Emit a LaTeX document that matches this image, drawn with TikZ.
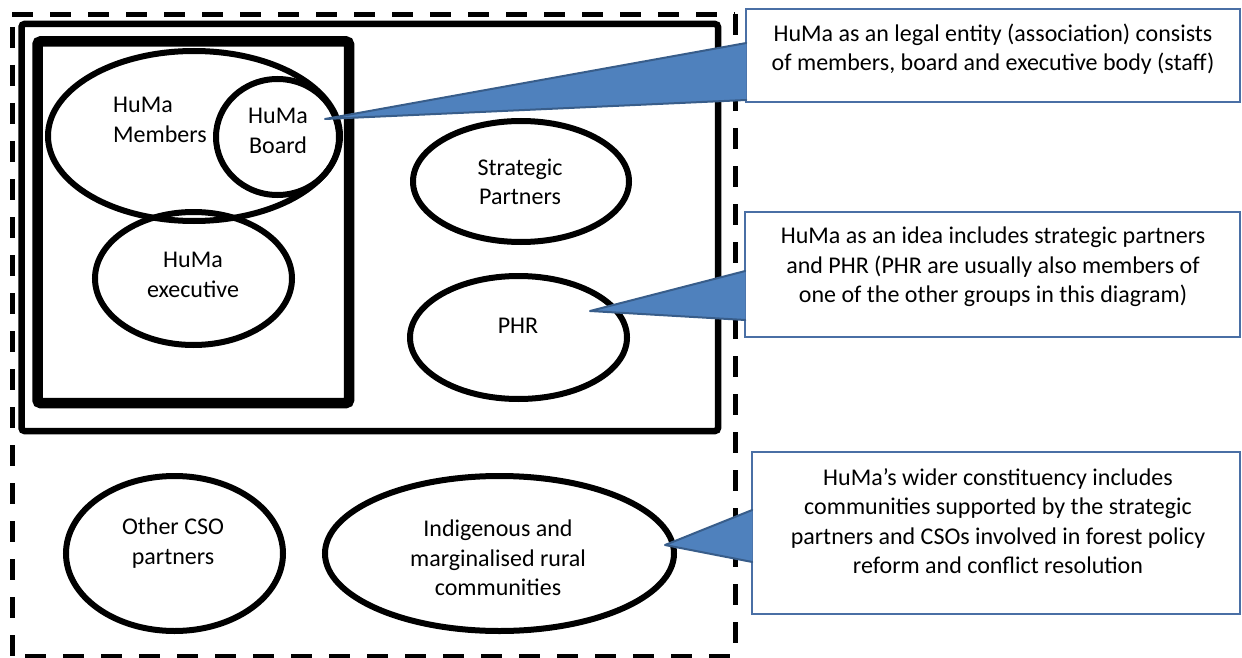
\documentclass[tikz,border=0pt]{standalone}
\usepackage{fontspec}
\setmainfont{Carlito}
\usetikzlibrary{shapes.geometric}
\definecolor{cfill}{HTML}{4F81BD}
\definecolor{cline}{HTML}{385D8A}
\definecolor{cbox}{HTML}{4A6FA5}
\begin{document}
\begin{tikzpicture}[x=1pt,y=-1pt,
  oval/.style={ellipse, draw=black, line width=6pt, inner sep=0pt},
  txt/.style={inner sep=0pt, align=center, font=\fontsize{24}{29.3}\selectfont},
  callbox/.style={draw=cbox, line width=1.5pt, fill=white, inner sep=0pt},
  wedge/.style={fill=cfill},
  wedgeedge/.style={draw=cline, line width=2pt, line join=round, line cap=round},
  dashline/.style={line width=5pt, dash pattern=on 21pt off 17pt},
]
\useasboundingbox (0,0) rectangle (1242,658);

% outer dashed boundary
\draw[dashline] (12,15) -- (735,15);
\draw[dashline] (735,14) -- (735,660);
\draw[dashline] (25,656) -- (735,656);
\draw[dashline] (12,27) -- (12,660);

% idea rectangle
\draw[line width=6.5pt, rounded corners=3pt] (21.5,24) rectangle (718,431);
% legal entity rectangle
\draw[line width=10.5pt, rounded corners=3pt] (37.5,41.5) rectangle (349,403);

% ellipses
\node[oval, minimum width=292pt, minimum height=170pt] (members) at (194,136) {};
\node[oval, minimum width=123pt, minimum height=116pt] (board) at (277.5,137) {};
\node[oval, minimum width=197pt, minimum height=133pt] (exec) at (193.5,278.5) {};
\node[oval, minimum width=216pt, minimum height=121pt] (strat) at (521,181.5) {};
\node[oval, minimum width=217pt, minimum height=123pt] (phr) at (518.5,337.5) {};
\node[oval, minimum width=217pt, minimum height=155pt] (cso) at (174.5,553.5) {};
\node[oval, minimum width=349pt, minimum height=155pt] (indig) at (499.5,553.5) {};

% ellipse texts
\node[txt, align=left, anchor=west] (memberst) at (113,120) {HuMa\\Members};
\node[txt] (boardt) at (278,131) {HuMa\\Board};
\node[txt] (exect) at (193,275) {HuMa\\executive};
\node[txt] (stratt) at (520,182) {Strategic\\Partners};
\node[txt] (phrt) at (518,326) {PHR};
\node[txt] (csot) at (173,543) {Other CSO\\partners};
\node[txt] (indigt) at (498,558) {Indigenous and\\marginalised rural\\communities};

% callout boxes
\node[callbox, minimum width=494pt, minimum height=93pt] (box1) at (993,55.5) {};
\node[callbox, minimum width=495pt, minimum height=125pt] (box2) at (992.5,274.5) {};
\node[callbox, minimum width=488pt, minimum height=162pt] (box3) at (996,533) {};

\node[txt] (box1t) at (993,49) {HuMa as an legal entity (association) consists\\of members, board and executive body (staff)};
\node[txt] (box2t) at (993,267) {HuMa as an idea includes strategic partners\\and PHR (PHR are usually also members of\\one of the other groups in this diagram)};
\node[txt] (box3t) at (998,521) {HuMa’s wider constituency includes\\communities supported by the strategic\\partners and CSOs involved in forest policy\\reform and conflict resolution};

% callout tips
\coordinate (t1) at (325,119);
\coordinate (t2) at (590,311);
\coordinate (t3) at (665,545);

% wedges
\fill[wedge] (t1) -- ([xshift=1pt]box1.north west |- 0,43) -- ([xshift=1pt]box1.north west |- 0,100) -- cycle;
\draw[wedgeedge] ([xshift=1pt]box1.north west |- 0,43) -- (t1) -- ([xshift=1pt]box1.north west |- 0,100);
\fill[wedge] (t2) -- ([xshift=1pt]box2.north west |- 0,271) -- ([xshift=1pt]box2.north west |- 0,320) -- cycle;
\draw[wedgeedge] ([xshift=1pt]box2.north west |- 0,271) -- (t2) -- ([xshift=1pt]box2.north west |- 0,320);
\fill[wedge] (t3) -- ([xshift=1pt]box3.north west |- 0,510) -- ([xshift=1pt]box3.north west |- 0,562) -- cycle;
\draw[wedgeedge] ([xshift=1pt]box3.north west |- 0,510) -- (t3) -- ([xshift=1pt]box3.north west |- 0,562);
\end{tikzpicture}
\end{document}
